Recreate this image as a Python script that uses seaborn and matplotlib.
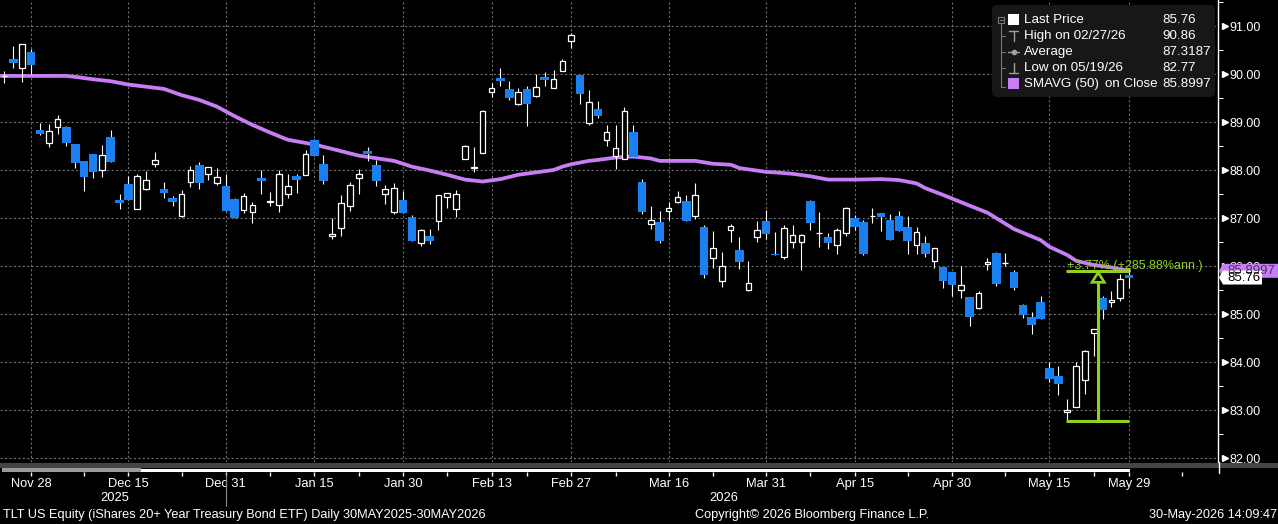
import numpy as np
import pandas as pd
import matplotlib
matplotlib.use("Agg")
import matplotlib.pyplot as plt
import seaborn as sns
from matplotlib.patches import Rectangle, Polygon, FancyBboxPatch
from matplotlib.transforms import blended_transform_factory

# ---------------- data ----------------
holidays = ["2025-11-27", "2025-12-25", "2026-01-01", "2026-01-19",
            "2026-02-16", "2026-04-03", "2026-05-25"]
dates = pd.bdate_range("2025-11-21", "2026-05-29", freq="C", holidays=holidays)

opens = [89.65, 89.95, 90.31, 90.13, 90.46, 88.83, 88.56, 88.90, 88.90, 88.54,
         88.19, 88.33, 87.99, 88.69, 87.38, 87.71, 87.18, 87.61, 88.12, 87.60,
         87.42, 87.05, 87.74, 88.10, 87.92, 87.72, 87.67, 87.39, 87.17, 87.13,
         87.83, 87.33, 87.28, 87.49, 87.87, 87.90, 88.63, 88.12, 86.63, 86.79,
         87.26, 87.83, 88.40, 88.10, 87.49, 87.13, 87.38, 87.02, 86.47, 86.62,
         86.93, 87.43, 87.18, 88.22, 88.04, 88.35, 89.62, 89.92, 89.69, 89.38,
         89.69, 89.54, 89.94, 89.70, 90.06, 90.68, 89.98, 88.97, 89.27, 88.62,
         88.30, 88.23, 88.79, 87.74, 86.88, 86.92, 87.15, 87.34, 87.35, 87.05,
         86.81, 86.17, 85.69, 86.74, 86.33, 85.49, 86.61, 86.94, 86.26, 86.19,
         86.49, 86.51, 87.35, 86.68, 86.60, 86.43, 86.68, 87.01, 86.91, 87.04,
         87.10, 86.96, 87.04, 86.81, 86.44, 86.48, 86.11, 85.98, 85.88, 85.49,
         85.35, 85.13, 86.04, 86.27, 86.06, 85.88, 85.18, 84.93, 85.25, 83.88,
         83.71, 82.95, 83.06, 83.62, 84.60, 85.33, 85.24, 85.34, 85.81]
highs = [89.72, 90.06, 90.58, 90.62, 90.52, 88.97, 88.96, 89.15, 88.92, 88.55,
         88.19, 88.34, 88.52, 88.83, 87.50, 87.88, 87.92, 87.98, 88.38, 87.75,
         87.46, 87.58, 88.08, 88.16, 88.06, 88.04, 87.92, 87.42, 87.52, 87.34,
         87.99, 87.54, 88.00, 87.92, 87.92, 88.42, 88.64, 88.31, 87.01, 87.48,
         87.74, 88.02, 88.48, 88.21, 87.68, 87.72, 87.56, 87.06, 86.77, 86.77,
         87.47, 87.53, 87.58, 88.52, 88.48, 89.26, 89.81, 90.13, 89.85, 89.71,
         89.74, 90.00, 90.04, 90.08, 90.32, 90.86, 89.98, 89.67, 89.44, 88.94,
         88.94, 89.31, 88.94, 87.81, 87.25, 87.15, 87.33, 87.56, 87.48, 87.73,
         86.85, 86.72, 86.29, 86.88, 86.60, 86.10, 86.94, 87.17, 86.71, 86.85,
         86.85, 86.67, 87.38, 87.13, 86.68, 86.79, 87.23, 87.06, 86.96, 87.20,
         87.10, 87.08, 87.14, 87.04, 86.81, 86.63, 86.37, 85.98, 85.88, 85.99,
         85.35, 85.48, 86.16, 86.29, 86.28, 85.92, 85.21, 85.04, 85.38, 83.99,
         83.92, 83.23, 83.99, 84.25, 84.68, 85.38, 85.48, 85.83, 85.94]
lows = [89.42, 89.81, 90.12, 89.84, 90.00, 88.72, 88.47, 88.74, 88.49, 88.05,
        87.57, 87.84, 87.86, 88.17, 87.19, 87.37, 87.18, 87.58, 88.07, 87.42,
        87.26, 87.03, 87.65, 87.60, 87.79, 87.68, 87.15, 87.00, 87.11, 86.90,
        87.49, 87.26, 87.13, 87.42, 87.53, 87.90, 88.30, 87.71, 86.56, 86.63,
        87.15, 87.51, 88.19, 87.67, 87.30, 87.09, 87.11, 86.53, 86.42, 86.46,
        86.76, 87.20, 87.03, 88.22, 87.95, 88.35, 89.52, 89.76, 89.46, 89.35,
        88.92, 89.53, 89.76, 89.70, 90.06, 90.55, 89.37, 88.94, 89.09, 88.51,
        88.03, 88.23, 88.27, 87.08, 86.77, 86.47, 86.95, 87.31, 86.94, 86.97,
        85.76, 85.95, 85.57, 86.49, 85.94, 85.47, 86.49, 86.56, 86.23, 86.15,
        86.38, 85.92, 86.74, 86.40, 86.35, 86.26, 86.63, 86.75, 86.22, 86.90,
        86.72, 86.55, 86.72, 86.24, 86.26, 86.19, 85.95, 85.55, 85.38, 85.34,
        84.76, 85.10, 85.92, 85.58, 85.99, 85.49, 84.92, 84.59, 84.90, 83.59,
        83.32, 82.77, 83.06, 83.34, 84.13, 84.90, 85.15, 85.28, 85.54]
closes = [89.48, 89.96, 90.22, 90.62, 90.19, 88.75, 88.81, 89.06, 88.57, 88.15,
          87.86, 87.95, 88.31, 88.17, 87.32, 87.38, 87.88, 87.79, 88.20, 87.53,
          87.34, 87.49, 88.01, 87.72, 88.06, 87.85, 87.15, 87.01, 87.45, 87.27,
          87.77, 87.35, 87.92, 87.66, 87.80, 88.33, 88.30, 87.77, 86.66, 87.31,
          87.68, 87.91, 88.34, 87.78, 87.60, 87.63, 87.11, 86.53, 86.74, 86.53,
          87.47, 87.53, 87.51, 88.51, 88.06, 89.22, 89.71, 89.86, 89.51, 89.62,
          89.38, 89.72, 89.88, 89.90, 90.27, 90.81, 89.59, 89.41, 89.13, 88.79,
          88.45, 89.22, 88.27, 87.13, 86.95, 86.53, 87.20, 87.43, 86.94, 87.47,
          85.81, 86.37, 85.99, 86.83, 86.09, 85.64, 86.76, 86.67, 86.23, 86.79,
          86.64, 86.64, 86.90, 86.69, 86.47, 86.74, 87.20, 86.82, 86.26, 87.05,
          87.03, 86.55, 86.72, 86.53, 86.70, 86.26, 86.37, 85.69, 85.61, 85.60,
          84.94, 85.43, 86.08, 85.63, 86.07, 85.55, 84.97, 84.78, 84.90, 83.65,
          83.55, 83.01, 83.91, 84.22, 84.68, 85.09, 85.29, 85.73, 85.76]

# SMAVG(50): session offset from Nov 28 and value
sma_offset = [-4, 0, 4, 5, 7, 9, 11, 15, 17, 19, 21, 23, 25, 27, 29, 32, 34, 37,
              41, 43, 45, 47, 49, 51, 53, 55, 59, 60, 61, 63, 64, 66, 68, 70, 71,
              75, 77, 79, 80, 83, 84, 86, 88, 90, 93, 96, 98, 100, 101, 103, 105,
              108, 111, 114, 115, 117, 118, 120, 122, 124]
sma_values = [89.96, 89.96, 89.96, 89.94, 89.89, 89.85, 89.78, 89.69, 89.56, 89.46,
              89.32, 89.12, 88.94, 88.78, 88.63, 88.53, 88.44, 88.30, 88.19, 88.07,
              87.99, 87.90, 87.80, 87.76, 87.81, 87.90, 88.00, 88.07, 88.12, 88.19,
              88.21, 88.26, 88.28, 88.24, 88.19, 88.19, 88.13, 88.11, 88.04, 87.96,
              87.95, 87.92, 87.87, 87.80, 87.80, 87.81, 87.79, 87.72, 87.62, 87.48,
              87.33, 87.11, 86.77, 86.54, 86.40, 86.23, 86.11, 86.02, 85.97, 85.90]

major_dates = ["2025-11-28", "2025-12-15", "2025-12-31", "2026-01-15", "2026-01-30",
               "2026-02-13", "2026-02-27", "2026-03-16", "2026-03-31", "2026-04-15",
               "2026-04-30", "2026-05-15", "2026-05-29"]
minor_offsets = [6, 17, 27, 37, 47, 56, 66, 77, 88, 99, 110, 120, 130]
price_ticks = list(range(82, 92))

legend_names = ["Last Price", "High on 02/27/26", "Average", "Low on 05/19/26",
                "SMAVG (50)"]
legend_values = ["85.76", "90.86", "87.3187", "82.77", "85.8997"]
last_price = 85.76
sma_last = 85.8997
ann_low, ann_high = 82.77, 85.89
ann_start, ann_end = "2026-05-19", "2026-05-29"
ann_text = "+3.77% (+285.88%ann.)"

# ---------------- style ----------------
BLUE = "#1a80f2"
PURPLE = "#c77ef4"
GREEN = "#8fd11c"
GRID = "#6c6c6c"

sns.set_theme(style="dark", rc={"axes.facecolor": "black", "figure.facecolor": "black"})
plt.rcParams["font.family"] = ["Liberation Sans", "DejaVu Sans"]

W, H = 1278, 524
AX_BOTTOM = 462
AX_RIGHT = 1218
fig = plt.figure(figsize=(W / 100, H / 100), dpi=100, facecolor="black")
ax = fig.add_axes([0, 1 - AX_BOTTOM / H, AX_RIGHT / W, AX_BOTTOM / H])
ax.set_facecolor("black")

o = np.array(opens); h = np.array(highs); l = np.array(lows); c = np.array(closes)
n = len(o)
base = dates.get_loc(pd.Timestamp("2025-11-28"))
pos = np.arange(n) - base
up = c >= o

# moving average
sns.lineplot(x=np.array(sma_offset), y=np.array(sma_values), ax=ax, color=PURPLE,
             lw=2.7, estimator=None, sort=False, zorder=2)

# candles
ax.vlines(pos, l, h, color="white", lw=0.8, zorder=3)
ax.bar(pos[~up], (o - c)[~up], bottom=c[~up], width=0.97, color=BLUE,
       edgecolor="none", zorder=4)
ax.bar(pos[up], np.maximum((c - o)[up], 0.004), bottom=o[up], width=0.64,
       facecolor="black", edgecolor="white", linewidth=0.9, zorder=4)

ax.set_xlim(-3.5, 134.03)
ax.set_ylim(81.9167, 91.5417)

# grid and axes
major_pos = [dates.get_loc(pd.Timestamp(d)) - base for d in major_dates]
major_lab = [pd.Timestamp(d).strftime("%b ") + str(pd.Timestamp(d).day) for d in major_dates]
ax.set_xticks(major_pos)
ax.tick_params(axis="x", which="both", length=0, labelbottom=False)
ax.yaxis.tick_right()
ax.set_yticks(price_ticks)
ax.set_yticklabels([f"{v:.2f}" for v in price_ticks])
ax.set_yticks(np.arange(82.5, 91.6, 1.0), minor=True)
ax.tick_params(axis="y", which="major", length=0, pad=8, labelcolor="white",
               labelsize=9, right=True, left=False)
ax.tick_params(axis="y", which="minor", length=3.5, width=0.8, color="white",
               right=True, left=False)
ax.grid(True, which="major", axis="both", color=GRID, ls=(0, (2, 2)), lw=0.8)
ax.set_axisbelow(True)
for side in ["top", "left", "bottom"]:
    ax.spines[side].set_visible(False)
ax.spines["right"].set_color("white")
ax.spines["right"].set_linewidth(1.0)
ax.set_xlabel(""); ax.set_ylabel("")

bt = blended_transform_factory(ax.transAxes, ax.transData)
px = 1.0 / AX_RIGHT
ax.plot(np.full(len(price_ticks), 1 + 6.5 * px), price_ticks, transform=bt,
        marker=">", ms=5, color="white", ls="none", clip_on=False, zorder=5)

# bottom date axis
sec = ax.secondary_xaxis(-10 / AX_BOTTOM)
sec.set_xticks(major_pos)
sec.set_xticklabels(major_lab)
sec.set_xticks(minor_offsets, minor=True)
sec.tick_params(axis="x", which="both", direction="out", length=3, width=1,
                color="white", labelcolor="white", labelsize=9.3, pad=1.5)
for sp in sec.spines.values():
    sp.set_visible(False)

# annotation
s = dates.get_loc(pd.Timestamp(ann_start)) - base
e = dates.get_loc(pd.Timestamp(ann_end)) - base
mid = (s + e) / 2
for yv in (ann_high, ann_low):
    ax.plot([s - 0.1, e], [yv, yv], color=GREEN, lw=2.2, solid_capstyle="butt", zorder=7)
head_base = ann_high - 0.23
ax.plot([mid, mid], [ann_low, head_base], color=GREEN, lw=2.2, solid_capstyle="butt", zorder=7)
ax.add_patch(Polygon([[mid - 0.7, head_base], [mid + 0.7, head_base], [mid, ann_high - 0.025]],
                     closed=True, facecolor="black", edgecolor=GREEN, lw=1.9, zorder=8))
ax.text(s, ann_high + 0.045, ann_text, color=GREEN, fontsize=9, ha="left",
        va="baseline", zorder=9)

# ---------------- overlay decorations (pixel coords) ----------------
ov = fig.add_axes([0, 0, 1, 1], zorder=20)
ov.set_xlim(0, W); ov.set_ylim(H, 0); ov.axis("off"); ov.patch.set_visible(False)

# price labels on the right axis (drawn above the tick labels)
hu = 7.0 / 48.0
for v, fc, tc, txt, right in [(sma_last, PURPLE, "#4b3560", legend_values[4], 62),
                              (last_price, "white", "black", legend_values[0], 44)]:
    ov.add_patch(Polygon([(1 + 1 * px, v), (1 + 5 * px, v + hu), (1 + right * px, v + hu),
                          (1 + right * px, v - hu), (1 + 5 * px, v - hu)], closed=True,
                         transform=bt, clip_on=False, facecolor=fc, edgecolor="none"))
    ov.text(1 + 9 * px, v, txt, transform=bt, color=tc, fontsize=9.5, va="center",
            ha="left", clip_on=False)

# navigator bar
ov.add_patch(Rectangle((0, 462.5), W, 5, facecolor="#444444", edgecolor="none"))
ov.add_patch(Rectangle((2, 468), 139, 4, facecolor="#9a9a9a", edgecolor="none"))
ov.add_patch(Rectangle((141, 469), 989, 3, facecolor="white", edgecolor="none"))
ov.plot([AX_RIGHT + 0.5, AX_RIGHT + 0.5], [462, 473], color="white", lw=1.0)

# year labels and separator
yt = blended_transform_factory(ax.transData, fig.transFigure)
boundary = dates.get_loc(pd.Timestamp("2025-12-31")) - base
xl = ax.get_xlim()
ax.plot([boundary, boundary], [1 - 474 / H, 1 - 506 / H], transform=yt, color="#8a8a8a",
        lw=0.8, clip_on=False)
ax.text((xl[0] + boundary + 0.5) / 2, 1 - 498 / H, "2025", transform=yt, color="white",
        fontsize=9.3, ha="center", va="center", clip_on=False)
ax.text((xl[1] + boundary + 0.5) / 2, 1 - 498 / H, "2026", transform=yt, color="white",
        fontsize=9.3, ha="center", va="center", clip_on=False)

# footer
ov.text(3, 515, "TLT US Equity (iShares 20+ Year Treasury Bond ETF) Daily 30MAY2025-30MAY2026",
        color="white", fontsize=9.2, va="center", ha="left")
ov.text(695, 515, "Copyright\u00a9 2026 Bloomberg Finance L.P.", color="white",
        fontsize=9.2, va="center", ha="left")
ov.text(1277, 515, "30-May-2026 14:09:47", color="white", fontsize=9.2, va="center", ha="right")

# legend box
ov.add_patch(FancyBboxPatch((992, 5), 223, 92, boxstyle="round,pad=0,rounding_size=5",
                            facecolor="#171717", edgecolor="none"))
TREE = "#777777"
ov.add_patch(Rectangle((998, 17), 6, 6, facecolor="none", edgecolor=TREE, lw=0.8))
ov.plot([999.5, 1002.5], [20, 20], color=TREE, lw=0.8)
ov.plot([1001, 1001], [23, 87], color=TREE, lw=0.8)
for yy in (36, 52, 68, 87):
    ov.plot([1001, 1005], [yy, yy], color=TREE, lw=0.8)
rows_y = [20, 36, 52, 68, 84]
ov.add_patch(Rectangle((1008, 14), 11, 11, facecolor="white", edgecolor="none"))
ov.plot([1013.5, 1013.5], [31, 41], color="#a0a0a0", lw=1.0)
ov.plot([1009, 1018], [31, 31], color="#a0a0a0", lw=1.0)
ov.plot([1008, 1019], [52, 52], color="#a0a0a0", lw=1.0)
ov.plot([1013.5], [52], marker="o", ms=3, color="#a0a0a0")
ov.plot([1013.5, 1013.5], [63, 73], color="#a0a0a0", lw=1.0)
ov.plot([1009, 1018], [73, 73], color="#a0a0a0", lw=1.0)
ov.add_patch(Rectangle((1008, 78), 11, 11, facecolor=PURPLE, edgecolor="none"))
for yy, name, val in zip(rows_y, legend_names, legend_values):
    ov.text(1024, yy, name, color="white", fontsize=9.6, va="center", ha="left")
    ov.text(1162, yy, val, color="white", fontsize=9.6, va="center", ha="left")
ov.text(1105, rows_y[4], "on Close", color="white", fontsize=9.6, va="center", ha="left")

fig.savefig("out.png", dpi=100, facecolor="black")
